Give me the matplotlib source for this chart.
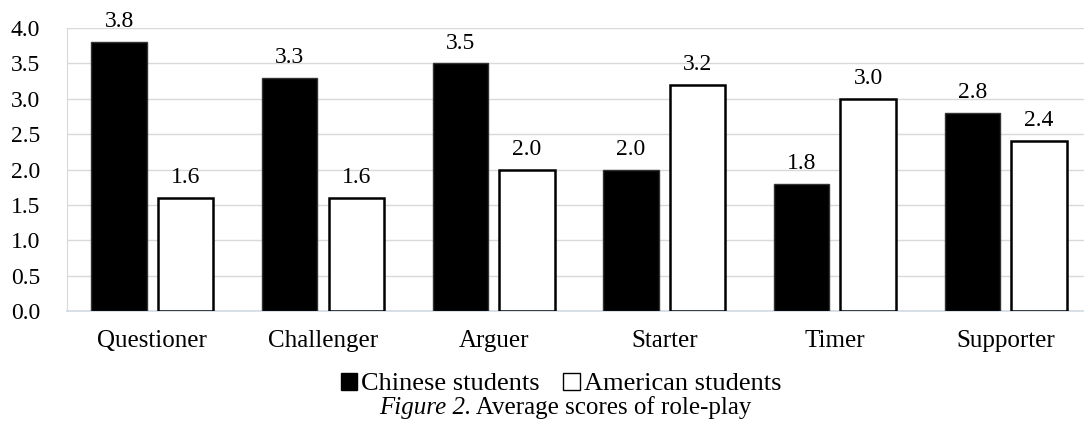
import matplotlib
matplotlib.use('Agg')
import matplotlib.pyplot as plt
from matplotlib.patches import Patch
from matplotlib import rcParams
import numpy as np

rcParams['font.family'] = 'serif'
rcParams['font.serif'] = ['Liberation Serif', 'DejaVu Serif']

roles = ['Questioner', 'Challenger', 'Arguer', 'Starter', 'Timer', 'Supporter']
chinese = [3.8, 3.3, 3.5, 2.0, 1.8, 2.8]
american = [1.6, 1.6, 2.0, 3.2, 3.0, 2.4]
yticks = [0.0, 0.5, 1.0, 1.5, 2.0, 2.5, 3.0, 3.5, 4.0]

fig = plt.figure(figsize=(10.84, 4.36), dpi=100)
ax = fig.add_axes([0.0618, 0.2867, 0.9446, 0.649])

x = np.arange(len(roles))
w = 0.325
off = 0.195

b1 = ax.bar(x - off, chinese, w, color='black', edgecolor='#333333', linewidth=1.0, zorder=3)
b2 = ax.bar(x + off, american, w, color='white', edgecolor='black', linewidth=1.8, zorder=3)

for rects, vals in ((b1, chinese), (b2, american)):
    for r, v in zip(rects, vals):
        ax.annotate('%.1f' % v, (r.get_x() + r.get_width() / 2, v),
                    xytext=(0, 7), textcoords='offset points',
                    ha='center', va='bottom', fontsize=17)

ax.set_xlim(-0.5, len(roles) - 0.5)
ax.set_ylim(0, 4.0)
ax.set_yticks(yticks)
ax.set_yticklabels(['%.1f' % t for t in yticks], fontsize=17)
ax.set_xticks(x)
ax.set_xticklabels(roles, fontsize=18)
ax.tick_params(length=0, axis='y', pad=19.5)
ax.tick_params(length=0, axis='x', pad=14)

ax.yaxis.grid(True, color='#d9d9d9', linewidth=1.0, zorder=0)
for s in ('top', 'right'):
    ax.spines[s].set_visible(False)
ax.spines['left'].set_color('#d9d9d9')
ax.spines['bottom'].set_color('#cfdbe8')
ax.spines['bottom'].set_linewidth(1.2)

handles = [Patch(facecolor='black', edgecolor='black'),
           Patch(facecolor='white', edgecolor='black', linewidth=1.0)]
fig.legend(handles, ['Chinese students', 'American students'],
           loc='center', bbox_to_anchor=(561 / 1084, 1 - 384 / 436), ncol=2,
           frameon=False, fontsize=19, handlelength=0.62, handleheight=0.62,
           handletextpad=0.15, columnspacing=0.9)

# caption: italic figure number followed by upright title
cy = 1 - 408 / 436
t1 = fig.text(0, cy, 'Figure 2.', style='italic', ha='left', va='center', fontsize=18)
t2 = fig.text(0, cy, ' Average scores of role-play', ha='left', va='center', fontsize=18)
r = fig.canvas.get_renderer()
w1 = t1.get_window_extent(r).width / fig.bbox.width
w2 = t2.get_window_extent(r).width / fig.bbox.width
x0 = 565 / 1084 - (w1 + w2) / 2
t1.set_x(x0)
t2.set_x(x0 + w1)

fig.savefig('out.png')
